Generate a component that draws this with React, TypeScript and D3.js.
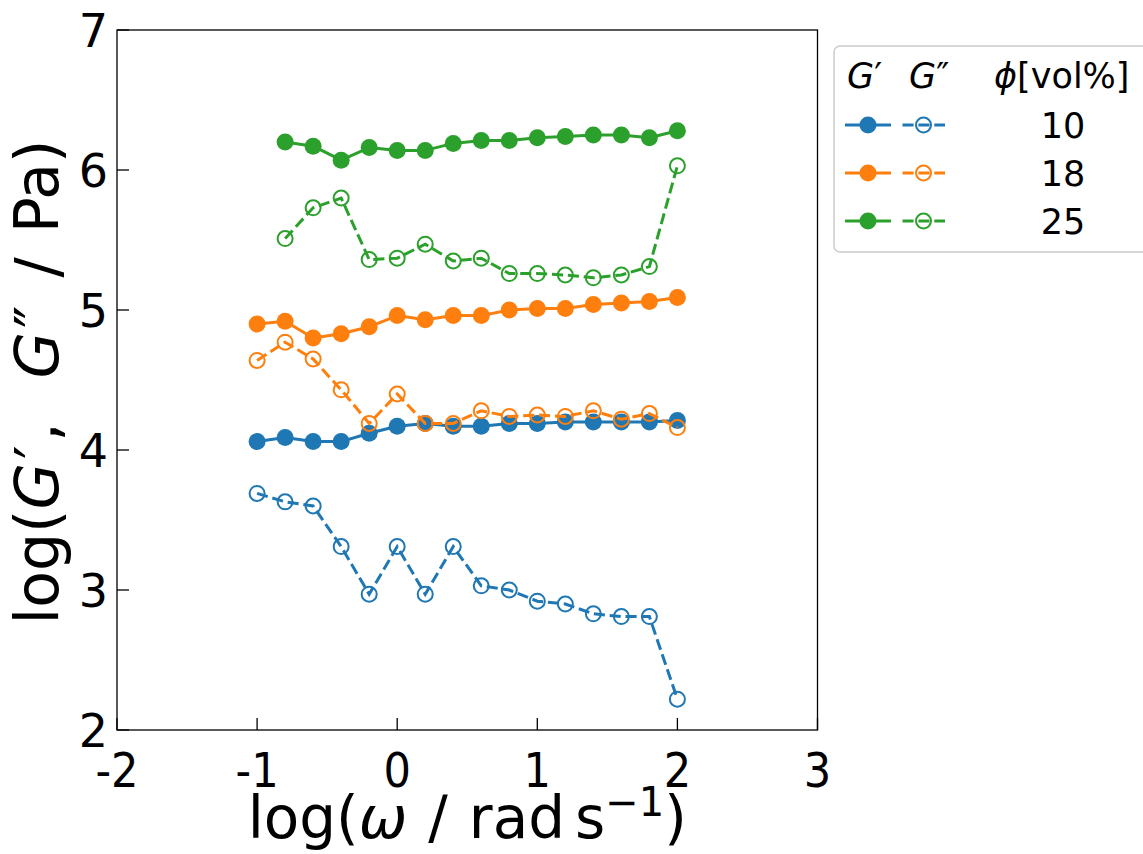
import React from "react";
import * as d3 from "d3";

// log(angular frequency / rad s^-1)
const logOmega = [-1.0, -0.8, -0.6, -0.4, -0.2, 0.0, 0.2, 0.4, 0.6, 0.8, 1.0, 1.2, 1.4, 1.6, 1.8, 2.0];
const logOmega25 = [-0.8, -0.6, -0.4, -0.2, 0.0, 0.2, 0.4, 0.6, 0.8, 1.0, 1.2, 1.4, 1.6, 1.8, 2.0];

// storage modulus log(G' / Pa)
const storage10 = [4.06, 4.09, 4.06, 4.06, 4.12, 4.17, 4.19, 4.17, 4.17, 4.19, 4.19, 4.2, 4.2, 4.2, 4.2, 4.21];
const storage18 = [4.9, 4.92, 4.8, 4.83, 4.88, 4.96, 4.93, 4.96, 4.96, 5.0, 5.01, 5.01, 5.04, 5.05, 5.06, 5.09];
const storage25 = [6.2, 6.17, 6.07, 6.16, 6.14, 6.14, 6.19, 6.21, 6.21, 6.23, 6.24, 6.25, 6.25, 6.23, 6.28];

// loss modulus log(G'' / Pa)
const loss10 = [3.69, 3.63, 3.6, 3.31, 2.97, 3.31, 2.97, 3.31, 3.03, 3.0, 2.92, 2.9, 2.83, 2.81, 2.81, 2.22];
const loss18 = [4.64, 4.77, 4.65, 4.43, 4.19, 4.4, 4.19, 4.19, 4.28, 4.24, 4.25, 4.24, 4.28, 4.22, 4.26, 4.16];
const loss25 = [5.51, 5.73, 5.8, 5.36, 5.37, 5.47, 5.35, 5.37, 5.26, 5.26, 5.25, 5.23, 5.25, 5.31, 6.03];

const volumeFractions = ["10", "18", "25"];
const seriesColors = ["#1f77b4", "#ff7f0e", "#2ca02c"];

const xTicks = [-2, -1, 0, 1, 2, 3];
const yTicks = [2, 3, 4, 5, 6, 7];

const W = 1143;
const H = 854;
const plot = { left: 117, right: 817.5, top: 30, bottom: 730 };
const FONT = "'DejaVu Sans', sans-serif";

const x = d3.scaleLinear().domain([-2, 3]).range([plot.left, plot.right]);
const y = d3.scaleLinear().domain([2, 7]).range([plot.bottom, plot.top]);

type Series = { xs: number[]; ys: number[]; color: string };

const storageSeries: Series[] = [
  { xs: logOmega, ys: storage10, color: seriesColors[0] },
  { xs: logOmega, ys: storage18, color: seriesColors[1] },
  { xs: logOmega25, ys: storage25, color: seriesColors[2] },
];
const lossSeries: Series[] = [
  { xs: logOmega, ys: loss10, color: seriesColors[0] },
  { xs: logOmega, ys: loss18, color: seriesColors[1] },
  { xs: logOmega25, ys: loss25, color: seriesColors[2] },
];

const line = d3
  .line<[number, number]>()
  .x((d) => x(d[0]))
  .y((d) => y(d[1]));

const pts = (s: Series): [number, number][] => s.xs.map((v, i) => [v, s.ys[i]]);

const LW = 3;
const DASH = "11.1,4.8";
const R_FILLED = 8.5;
const R_OPEN = 7.5;

export default function App() {
  const legendRows = [125, 173, 221];
  const xLabelY = 838;
  return (
    <svg
      width={W}
      height={H}
      viewBox={`0 0 ${W} ${H}`}
      style={{ position: "absolute", left: 0, top: 0, display: "block", background: "#fff" }}
    >
      <rect x={0} y={0} width={W} height={H} fill="#fff" />

      {/* storage modulus: solid lines, filled markers */}
      {storageSeries.map((s, i) => (
        <g key={`g1-${i}`}>
          <path d={line(pts(s)) ?? ""} fill="none" stroke={s.color} strokeWidth={LW} strokeLinejoin="round" />
          {pts(s).map((p, j) => (
            <circle key={j} cx={x(p[0])} cy={y(p[1])} r={R_FILLED} fill={s.color} />
          ))}
        </g>
      ))}

      {/* loss modulus: dashed lines, open markers */}
      {lossSeries.map((s, i) => (
        <g key={`g2-${i}`}>
          <path d={line(pts(s)) ?? ""} fill="none" stroke={s.color} strokeWidth={LW} strokeDasharray={DASH} />
          {pts(s).map((p, j) => (
            <circle key={j} cx={x(p[0])} cy={y(p[1])} r={R_OPEN} fill="none" stroke={s.color} strokeWidth={2} />
          ))}
        </g>
      ))}

      {/* axes frame */}
      <rect
        x={plot.left}
        y={plot.top}
        width={plot.right - plot.left}
        height={plot.bottom - plot.top}
        fill="none"
        stroke="#000"
        strokeWidth={1.3}
      />

      {/* inward ticks */}
      {xTicks.map((t) => (
        <g key={`xt${t}`}>
          <line x1={x(t)} x2={x(t)} y1={plot.bottom} y2={plot.bottom - 12} stroke="#000" strokeWidth={1.3} />
          <text
            transform={`translate(${x(t)},787) scale(0.9,1)`}
            textAnchor="middle"
            fontFamily={FONT}
            fontSize={48}
            fill="#000"
          >
            {t < 0 ? `-${Math.abs(t)}` : `${t}`}
          </text>
        </g>
      ))}
      {yTicks.map((t) => (
        <g key={`yt${t}`}>
          <line x1={plot.left} x2={plot.left + 12} y1={y(t)} y2={y(t)} stroke="#000" strokeWidth={1.3} />
          <text x={108} y={y(t)} dy="0.36em" textAnchor="end" fontFamily={FONT} fontSize={46} fill="#000">
            {t}
          </text>
        </g>
      ))}

      {/* axis titles */}
      <text x={(plot.left + plot.right) / 2} y={xLabelY} textAnchor="middle" fontFamily={FONT} fontSize={58} fill="#000">
        log(<tspan fontStyle="italic">ω</tspan>
        <tspan dx={21}>/</tspan>
        <tspan dx={21}>rad</tspan>
        <tspan dx={10}>s</tspan>
        <tspan dy={-22} fontSize={40}>−1</tspan>
        <tspan dy={22}>)</tspan>
      </text>
      <text
        transform={`translate(58,382) rotate(-90)`}
        textAnchor="middle"
        fontFamily={FONT}
        fontSize={60}
        fill="#000"
      >
        log(<tspan fontStyle="italic">G</tspan>
        <tspan dx={4}>′</tspan>
        <tspan dx={4}>,</tspan>
        <tspan dx={44} fontStyle="italic">G</tspan>
        <tspan dx={4}>″</tspan>
        <tspan dx={28}>/</tspan>
        <tspan dx={24}>Pa)</tspan>
      </text>

      {/* legend */}
      <rect x={834} y={46} width={340} height={206} rx={6} fill="#fff" stroke="#cccccc" strokeWidth={1.5} />
      <text x={847} y={88} fontFamily={FONT} fontSize={35} fill="#000">
        <tspan fontStyle="italic">G</tspan>′
      </text>
      <text x={909} y={88} fontFamily={FONT} fontSize={35} fill="#000">
        <tspan fontStyle="italic">G</tspan>″
      </text>
      <text x={994} y={88} fontFamily={FONT} fontSize={35} fill="#000">
        <tspan fontStyle="italic">ϕ</tspan>[vol%]
      </text>
      {volumeFractions.map((v, i) => (
        <g key={`lg${v}`}>
          <line x1={845} x2={891} y1={legendRows[i]} y2={legendRows[i]} stroke={seriesColors[i]} strokeWidth={LW} />
          <circle cx={868} cy={legendRows[i]} r={R_FILLED} fill={seriesColors[i]} />
          <line
            x1={902.5}
            x2={945}
            y1={legendRows[i]}
            y2={legendRows[i]}
            stroke={seriesColors[i]}
            strokeWidth={LW}
            strokeDasharray={DASH}
          />
          <circle cx={923.5} cy={legendRows[i]} r={R_OPEN} fill="none" stroke={seriesColors[i]} strokeWidth={2} />
          <text x={1063} y={legendRows[i]} dy="0.36em" textAnchor="middle" fontFamily={FONT} fontSize={35} fill="#000">
            {v}
          </text>
        </g>
      ))}
    </svg>
  );
}
